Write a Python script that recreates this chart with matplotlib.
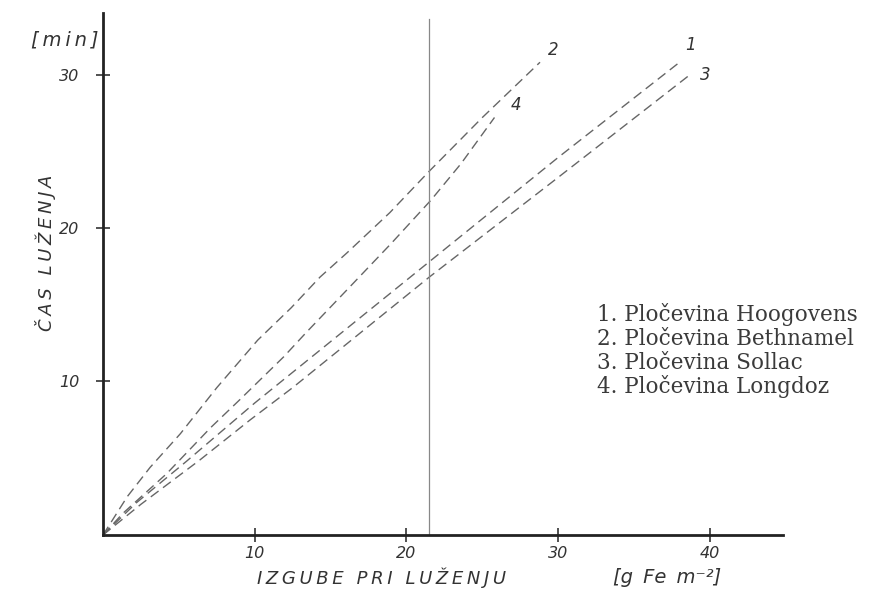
import matplotlib
matplotlib.use("Agg")
import matplotlib.pyplot as plt

# ---- data ----
x_ticks = [10, 20, 30, 40]
y_ticks = [10, 20, 30]

line1_x = [0, 2.2, 5.5, 10, 21.5, 30, 38.0]
line1_y = [0, 2.1, 4.8, 8.6, 17.8, 24.6, 30.8]

line2_x = [0, 1.6, 3.1, 5.1, 7.5, 10.2, 12.4, 14.3, 16.1, 18.9, 21.5, 25.0, 28.8]
line2_y = [0, 2.5, 4.4, 6.6, 9.6, 12.7, 14.8, 16.8, 18.4, 21.0, 23.7, 27.2, 30.8]

line3_x = [0, 2.5, 6.4, 9.7, 12.5, 21.5, 30, 38.7]
line3_y = [0, 2.0, 4.9, 7.5, 9.6, 16.8, 23.3, 30.0]

line4_x = [0, 1.3, 4.2, 7.1, 9.0, 11.9, 13.4, 16.3, 19.0, 21.6, 23.6, 25.8]
line4_y = [0, 1.4, 4.0, 7.0, 8.8, 11.6, 13.2, 16.2, 19.0, 21.8, 24.2, 27.2]

vline_x = 21.5
vline_top = 33.6

line_numbers = ["1", "2", "3", "4"]
legend_labels = ["1. Pločevina Hoogovens", "2. Pločevina Bethnamel",
                 "3. Pločevina Sollac", "4. Pločevina Longdoz"]


def spaced(s):
    return "\u2009".join(s)


# ---- figure ----
fig = plt.figure(figsize=(8.76, 5.91), dpi=100)
ax = fig.add_axes([0.1176, 0.0948, 0.776, 0.883])
ax.set_xlim(0, 44.8)
ax.set_ylim(0, 34)

for s in ["top", "right"]:
    ax.spines[s].set_visible(False)
for s in ["left", "bottom"]:
    ax.spines[s].set_linewidth(2.0)
    ax.spines[s].set_color("#222222")

hand = dict(family="DejaVu Sans", style="italic", color="#333333")

ax.set_xticks(x_ticks)
ax.set_yticks(y_ticks)
ax.tick_params(direction="inout", length=10, width=1.2, color="#333333",
               labelsize=11.5, labelcolor="#333333")
for lab in ax.get_xticklabels() + ax.get_yticklabels():
    lab.set_fontstyle("italic")
ax.tick_params(axis="x", pad=3)
ax.tick_params(axis="y", pad=12)

dash = (7, 4)
col = "#666666"
for xs, ys in [(line1_x, line1_y), (line2_x, line2_y),
               (line3_x, line3_y), (line4_x, line4_y)]:
    ax.plot(xs, ys, color=col, lw=1.0, dashes=dash, solid_capstyle="butt")

ax.plot([vline_x, vline_x], [0, vline_top], color="#888888", lw=0.9)

# line number labels
num_pos = [(38.7, 31.9), (29.7, 31.6), (39.7, 30.0), (27.2, 28.0)]
for t, (px, py) in zip(line_numbers, num_pos):
    ax.text(px, py, t, fontsize=12, ha="center", va="center", **hand)

# axis labels
fig.text(0.074, 0.932, spaced("[min]"), fontsize=14, ha="center", va="center", **hand)
fig.text(0.052, 0.573, spaced("ČAS LUŽENJA"), fontsize=13, rotation=90,
         ha="center", va="center", **hand)
fig.text(0.435, 0.022, spaced("IZGUBE PRI LUŽENJU"), fontsize=13,
         ha="center", va="center", **hand)
fig.text(0.762, 0.022, "[g\u2009 Fe\u2009 m⁻²]", fontsize=14,
         ha="center", va="center", **hand)

# legend text
leg_y = [315, 339, 363, 387]
for lab, py in zip(legend_labels, leg_y):
    fig.text(0.681, 1 - py / 591, lab, fontsize=15.5, family="DejaVu Serif",
             color="#3a3a3a", ha="left", va="center")

fig.savefig("out.png", dpi=100, facecolor="white")
